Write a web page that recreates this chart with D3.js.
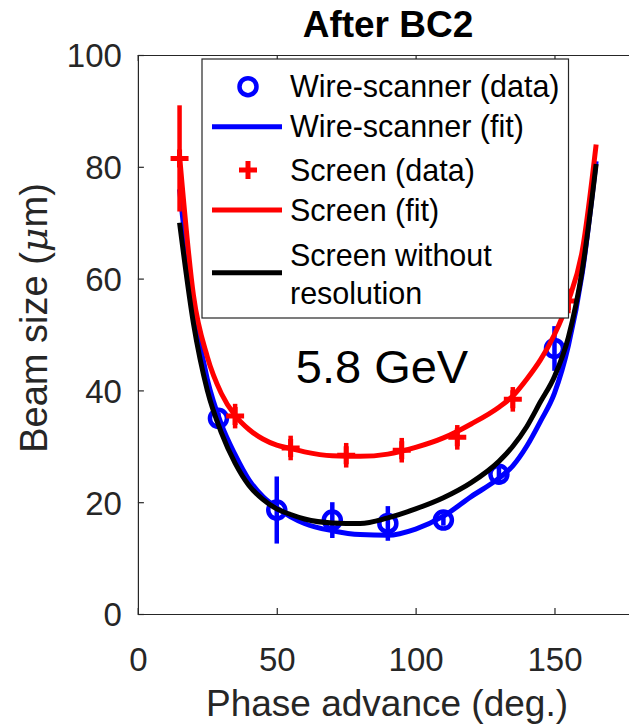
<!DOCTYPE html>
<html>
<head>
<meta charset="utf-8">
<script src="https://cdn.jsdelivr.net/npm/d3@7"></script>
<style>
  html, body { margin: 0; padding: 0; background: #fff; }
  svg { display: block; font-family: "Liberation Sans", Arial, Helvetica, sans-serif; }
</style>
</head>
<body>
<svg id="chart" width="629" height="728"></svg>
<script>
// ---------- data ----------
const xTicks = [0, 50, 100, 150];
const yTicks = [0, 20, 40, 60, 80, 100];

// Wire-scanner measurements: phase (deg), beam size (um), error (um)
const wirePhase = [29, 50, 70, 90, 110, 130, 150];
const wireSize  = [35, 18.6, 16.8, 16.2, 16.8, 25, 47.5];
const wireErr   = [1, 6, 3.2, 3.1, 1, 1.5, 4];

// Screen measurements
const screenPhase = [15, 35, 55, 75, 95, 115, 135, 155];
const screenSize  = [81.5, 35.4, 29.7, 28.4, 29.3, 31.6, 38.4, 56];
const screenErr   = [9.5, 2.2, 2.2, 2.2, 2.2, 2.2, 2.2, 2.2];

// Fit curves
const fitPhase = [15, 20, 25, 30, 35, 40, 45, 50, 55, 60, 70, 80, 90, 100, 110, 120, 130, 135, 140, 145, 150, 155, 160, 165];
const wireFit   = [76, 55, 42, 34, 28.5, 24, 21, 19, 17.4, 16.2, 14.9, 14.2, 14.1, 15.2, 17.5, 21, 24.3, 26.5, 30, 34.5, 39.5, 48, 61, 81];
const screenFit = [82, 57, 46, 39.5, 35.5, 33, 31.3, 30.2, 29.6, 29, 28.3, 28.2, 28.6, 29.8, 31.5, 34, 37, 39, 42, 45.5, 50, 56, 65, 84];
const noResFit  = [70, 52, 40, 32.5, 27, 23, 20.5, 18.8, 17.8, 17, 16.3, 16.2, 17.2, 18.8, 20.8, 23.5, 27.3, 30, 33.5, 38, 42.5, 49.5, 61.5, 80.5];

const legendLabels = ["Wire-scanner (data)", "Wire-scanner (fit)", "Screen (data)", "Screen (fit)", ["Screen without", "resolution"]];

// ---------- layout ----------
const svg = d3.select("#chart");
const x = d3.scaleLinear().domain([0, 180]).range([137.9, 637.8]);
const y = d3.scaleLinear().domain([0, 100]).range([614, 55]);
const axisColor = "#262626";
const BLUE = "#0000ff", RED = "#ff0000", BLACK = "#000000";

const gPlot = svg.append("g");

// axes box (top and left; right is beyond the picture)
const xAxisB = d3.axisBottom(x).tickValues(xTicks).tickSize(-6).tickPadding(34).tickFormat(d3.format("d"));
const xAxisT = d3.axisTop(x).tickValues(xTicks).tickSize(-6).tickFormat("");
const yAxisL = d3.axisLeft(y).tickValues(yTicks).tickSize(-6).tickPadding(16).tickFormat(d3.format("d"));

function styleAxis(g) {
  g.selectAll("path.domain").attr("stroke", axisColor).attr("stroke-width", 1.2);
  g.selectAll(".tick line").attr("stroke", axisColor).attr("stroke-width", 1.2);
  g.selectAll(".tick text").attr("fill", "#262626").attr("font-size", 33)
    .attr("font-family", "'Liberation Sans', Arial, sans-serif");
}
const gx = svg.append("g").attr("transform", `translate(0,${y(0)})`).call(xAxisB).call(styleAxis);
gx.selectAll(".tick text").attr("dy", "0.71em");
svg.append("g").attr("transform", `translate(0,${y(100)})`).call(xAxisT).call(styleAxis);
const gy = svg.append("g").attr("transform", `translate(${x(0)},0)`).call(yAxisL).call(styleAxis);
gy.selectAll(".tick text").attr("dy", "0.36em");

// ---------- marks ----------
const lineGen = d3.line().x(d => x(d[0])).y(d => y(d[1])).curve(d3.curveMonotoneX);

// Wire-scanner data: error bars + circles
const wireData = wirePhase.map((p, i) => ({p, v: wireSize[i], e: wireErr[i]}));
gPlot.selectAll(".werr").data(wireData).join("line")
  .attr("x1", d => x(d.p)).attr("x2", d => x(d.p))
  .attr("y1", d => y(d.v - d.e)).attr("y2", d => y(d.v + d.e))
  .attr("stroke", BLUE).attr("stroke-width", 4.5);
gPlot.selectAll(".wpt").data(wireData).join("circle")
  .attr("cx", d => x(d.p)).attr("cy", d => y(d.v)).attr("r", 8.5)
  .attr("fill", "none").attr("stroke", BLUE).attr("stroke-width", 4.5);

// Wire-scanner fit
gPlot.append("path").datum(fitPhase.map((p, i) => [p, wireFit[i]]))
  .attr("d", lineGen).attr("fill", "none").attr("stroke", BLUE).attr("stroke-width", 5);

// Screen data: error bars + crosses
const screenData = screenPhase.map((p, i) => ({p, v: screenSize[i], e: screenErr[i]}));
gPlot.selectAll(".serr").data(screenData).join("line")
  .attr("x1", d => x(d.p)).attr("x2", d => x(d.p))
  .attr("y1", d => y(d.v - d.e)).attr("y2", d => y(d.v + d.e))
  .attr("stroke", RED).attr("stroke-width", 4.5);
const crossPath = "M-9,0H9M0,-9V9";
gPlot.selectAll(".spt").data(screenData).join("path")
  .attr("transform", d => `translate(${x(d.p)},${y(d.v)})`)
  .attr("d", crossPath).attr("stroke", RED).attr("stroke-width", 5).attr("fill", "none");

// Screen fit
gPlot.append("path").datum(fitPhase.map((p, i) => [p, screenFit[i]]))
  .attr("d", lineGen).attr("fill", "none").attr("stroke", RED).attr("stroke-width", 5);

// Screen without resolution
gPlot.append("path").datum(fitPhase.map((p, i) => [p, noResFit[i]]))
  .attr("d", lineGen).attr("fill", "none").attr("stroke", BLACK).attr("stroke-width", 5);

// ---------- annotation ----------
svg.append("text").attr("x", 382).attr("y", 383).attr("text-anchor", "middle")
  .attr("font-size", 47).attr("fill", "#000").text("5.8 GeV");

// ---------- title & labels ----------
svg.append("text").attr("x", 388).attr("y", 37).attr("text-anchor", "middle")
  .attr("font-size", 37).attr("font-weight", "bold").attr("fill", "#000").text("After BC2");

svg.append("text").attr("x", 387).attr("y", 716).attr("text-anchor", "middle")
  .attr("font-size", 37).attr("fill", "#262626").text("Phase advance (deg.)");

const yl = svg.append("text").attr("transform", `translate(47,318) rotate(-90)`)
  .attr("text-anchor", "middle").attr("font-size", 38).attr("fill", "#262626");
yl.append("tspan").text("Beam size (");
yl.append("tspan").attr("font-style", "italic").attr("font-family", "'DejaVu Serif', 'Liberation Serif', serif").text("\u03bc");
yl.append("tspan").text("m)");

// ---------- legend ----------
const lg = svg.append("g");
lg.append("rect").attr("x", 202).attr("y", 59).attr("width", 366.5).attr("height", 259)
  .attr("fill", "#fff").attr("stroke", axisColor).attr("stroke-width", 1.2);
const rowY = [86.7, 126.7, 170, 210];
const textX = 290, symL = 212, symR = 282, symC = 248;
lg.append("circle").attr("cx", symC).attr("cy", rowY[0]).attr("r", 8.5)
  .attr("fill", "none").attr("stroke", BLUE).attr("stroke-width", 4.5);
lg.append("line").attr("x1", symL).attr("x2", symR).attr("y1", rowY[1]).attr("y2", rowY[1])
  .attr("stroke", BLUE).attr("stroke-width", 5);
lg.append("path").attr("transform", `translate(${symC},${rowY[2]})`).attr("d", crossPath)
  .attr("stroke", RED).attr("stroke-width", 5);
lg.append("line").attr("x1", symL).attr("x2", symR).attr("y1", rowY[3]).attr("y2", rowY[3])
  .attr("stroke", RED).attr("stroke-width", 5);
lg.append("line").attr("x1", symL).attr("x2", symR).attr("y1", 272.7).attr("y2", 272.7)
  .attr("stroke", BLACK).attr("stroke-width", 5);
legendLabels.slice(0, 4).forEach((t, i) => {
  lg.append("text").attr("x", textX).attr("y", rowY[i]).attr("dy", "0.35em")
    .attr("font-size", 30.5).attr("fill", "#000").text(t);
});
lg.append("text").attr("x", textX).attr("y", 255).attr("dy", "0.35em")
  .attr("font-size", 30.5).attr("fill", "#000").text(legendLabels[4][0]);
lg.append("text").attr("x", textX).attr("y", 293).attr("dy", "0.35em")
  .attr("font-size", 30.5).attr("fill", "#000").text(legendLabels[4][1]);
</script>
</body>
</html>
